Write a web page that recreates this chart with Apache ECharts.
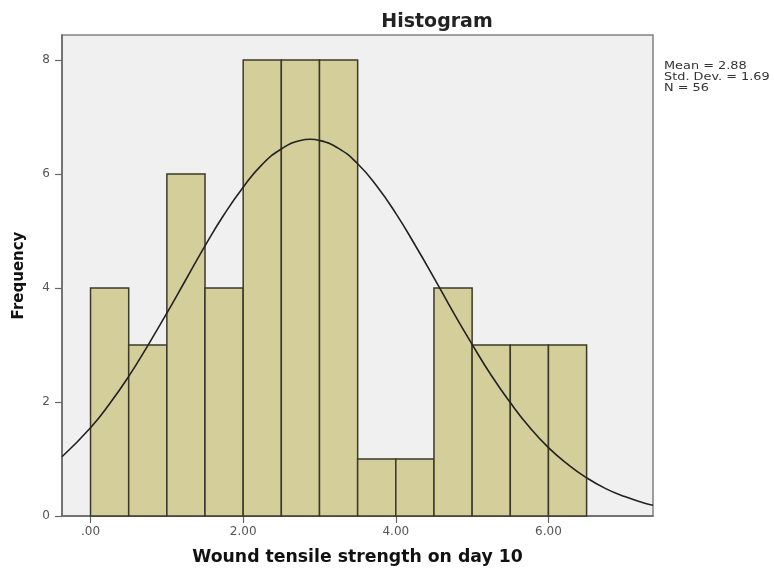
<!DOCTYPE html>
<html>
<head>
<meta charset="utf-8">
<script src="https://cdn.jsdelivr.net/npm/echarts@6/dist/echarts.min.js"></script>
<style>html,body{margin:0;padding:0;background:#fff}#c{width:774px;height:571px}</style>
</head>
<body>
<div id="c"></div>
<script>
var binStarts = [0, 0.5, 1.0, 1.5, 2.0, 2.5, 3.0, 3.5, 4.0, 4.5, 5.0, 5.5, 6.0];
var binWidth = 0.5;
var counts = [4, 3, 6, 4, 8, 8, 8, 1, 1, 4, 3, 3, 3];
var curveX = [-0.374, 0, 0.25, 0.5, 0.75, 1.0, 1.25, 1.5, 1.75, 2.0, 2.25, 2.5, 2.75, 2.88, 3.0, 3.25, 3.5, 3.75, 4.0, 4.25, 4.5, 4.75, 5.0, 5.25, 5.5, 5.75, 6.0, 6.25, 6.5, 6.75, 7.0, 7.25, 7.37];
var curveY = [1.04, 1.55, 1.97, 2.45, 2.99, 3.56, 4.15, 4.74, 5.29, 5.77, 6.17, 6.44, 6.59, 6.61, 6.59, 6.45, 6.18, 5.79, 5.31, 4.76, 4.18, 3.58, 3.01, 2.47, 1.99, 1.56, 1.20, 0.91, 0.67, 0.48, 0.34, 0.23, 0.19];
var xTicks = [0, 2, 4, 6];
var xTickLabels = ['.00', '2.00', '4.00', '6.00'];
var yTicks = [0, 2, 4, 6, 8];
var statsLines = ['Mean = 2.88', 'Std. Dev. = 1.69', 'N = 56'];

var barData = binStarts.map(function (s, i) { return [s, s + binWidth, counts[i]]; });
var curveData = curveX.map(function (x, i) { return [x, curveY[i]]; });

var FONT = 'DejaVu Sans, Liberation Sans, Arial';
var chart = echarts.init(document.getElementById('c'));
chart.setOption({
  animation: false,
  backgroundColor: '#ffffff',
  title: {
    text: 'Histogram',
    left: 432, top: 8, textAlign: 'center',
    textStyle: { fontFamily: FONT, fontWeight: 'bold', fontSize: 19, color: '#222' }
  },
  grid: {
    left: 62, right: 121, top: 35, bottom: 55,
    show: true, backgroundColor: '#f0f0f0', borderColor: '#808080', borderWidth: 1.5
  },
  xAxis: {
    type: 'value', min: -0.374, max: 7.37,
    name: 'Wound tensile strength on day 10', nameLocation: 'middle', nameGap: 33,
    nameTextStyle: { fontFamily: FONT, fontWeight: 'bold', fontSize: 17.3, color: '#111' },
    axisLine: { show: true, onZero: false, lineStyle: { color: '#666', width: 1.5 } },
    axisTick: { show: true, customValues: xTicks, length: 7, lineStyle: { color: '#666', width: 1.2 } },
    axisLabel: {
      customValues: xTicks, color: '#555', fontSize: 12, fontFamily: FONT, margin: 10,
      formatter: function (v) { var i = xTicks.indexOf(v); return i >= 0 ? xTickLabels[i] : ''; }
    },
    splitLine: { show: false }
  },
  yAxis: {
    type: 'value', min: 0, max: 8.44,
    name: 'Frequency', nameLocation: 'middle', nameGap: 35,
    nameTextStyle: { fontFamily: FONT, fontWeight: 'bold', fontSize: 15, color: '#111' },
    axisLine: { show: true, onZero: false, lineStyle: { color: '#666', width: 1.5 } },
    axisTick: { show: true, customValues: yTicks, length: 7, lineStyle: { color: '#666', width: 1.2 } },
    axisLabel: { customValues: yTicks, color: '#555', fontSize: 12, fontFamily: FONT, margin: 12 },
    splitLine: { show: false }
  },
  series: [
    {
      type: 'custom',
      data: barData,
      encode: { x: [0, 1], y: 2 },
      renderItem: function (params, api) {
        var p0 = api.coord([api.value(0), 0]);
        var p1 = api.coord([api.value(1), api.value(2)]);
        return {
          type: 'rect',
          shape: { x: p0[0], y: p1[1], width: p1[0] - p0[0], height: p0[1] - p1[1] },
          style: { fill: '#d3ce9a', stroke: '#3b3a2a', lineWidth: 1.5 }
        };
      },
      z: 2
    },
    {
      type: 'line',
      data: curveData,
      smooth: true,
      showSymbol: false,
      symbol: 'none',
      lineStyle: { color: '#222', width: 1.6 },
      z: 3
    }
  ],
  graphic: [
    {
      type: 'text', x: 664, y: 61, scaleX: 1.17,
      style: { text: statsLines.join('\n'), fontSize: 11, lineHeight: 11, fill: '#333', fontFamily: FONT, verticalAlign: 'top' }
    }
  ]
});
</script>
</body>
</html>
